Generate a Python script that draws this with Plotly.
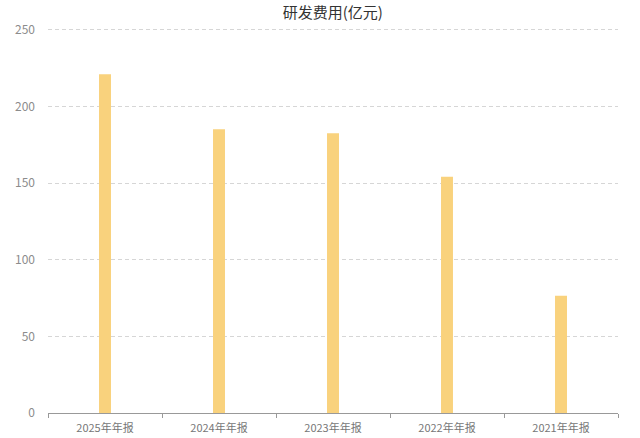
import plotly.graph_objects as go

# data
categories = ["2025年年报", "2024年年报", "2023年年报", "2022年年报", "2021年年报"]
rd_expense = [221, 185, 182.5, 154, 76.5]
y_ticks = [0, 50, 100, 150, 200, 250]

fig = go.Figure()

fig.add_trace(go.Bar(
    x=categories,
    y=rd_expense,
    marker=dict(color="#f9d27d", line=dict(width=0)),
    name="研发费用",
))

# y range goes a bit past 250 so the top gridline is still drawn
fig.update_layout(
    width=640,
    height=438,
    margin=dict(l=48, r=22, t=22, b=25),
    paper_bgcolor="white",
    plot_bgcolor="white",
    showlegend=False,
    bargap=0.895,
    font=dict(family="Noto Sans CJK SC, Microsoft YaHei, sans-serif", color="#666"),
    title=dict(
        text="研发费用(亿元)",
        x=0.52, xanchor="center",
        y=0.972, yanchor="middle",
        font=dict(size=15, color="#333"),
    ),
)

fig.update_xaxes(
    type="category",
    automargin=False,
    showline=True,
    linecolor="#999",
    linewidth=1,
    ticks="outside",
    tickson="boundaries",
    ticklen=4,
    tickcolor="#999",
    showgrid=False,
    ticklabelstandoff=5,
    tickfont=dict(size=11, color="#777"),
)

fig.update_yaxes(
    automargin=False,
    range=[0, 255],
    tickvals=y_ticks,
    showline=False,
    showgrid=True,
    gridcolor="#d6d6d6",
    griddash="4px,3px",
    gridwidth=1,
    zeroline=False,
    ticks="",
    ticklabelstandoff=12,
    tickfont=dict(size=12, color="#8c8c8c"),
)

fig.write_html("out.html", config={"displayModeBar": False},
               post_script="document.body.style.margin='0';")
